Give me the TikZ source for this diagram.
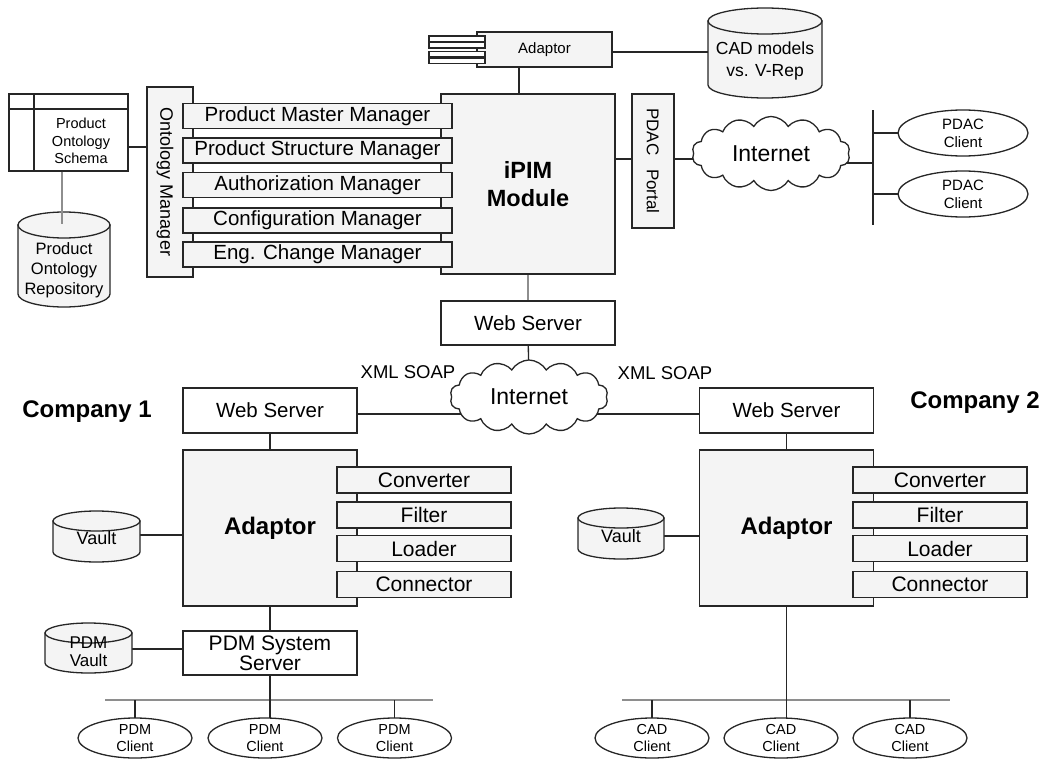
\documentclass[tikz,border=0pt]{standalone}
\usepackage{fontspec}
\setmainfont{Liberation Sans}
\usetikzlibrary{shapes.geometric,shapes.symbols,backgrounds}
\definecolor{boxfill}{HTML}{F4F4F4}
\definecolor{linec}{HTML}{262626}
\definecolor{busc}{HTML}{8E8E8E}
\newcommand{\fs}[2]{\fontsize{#1}{#2}\selectfont}
% #1 name, #2 x1, #3 y1, #4 x2, #5 y2, #6 ry, #7 text y, #8 font, #9 text
\newcommand{\mycyl}[9]{%
  \pgfmathsetmacro{\cylrx}{(#4-#2)/2}%
  \pgfmathsetmacro{\cylcx}{(#4+#2)/2}%
  \draw[cylstyle] (#2,#3+#6) -- (#2,#5-#6) arc[start angle=180,end angle=0,x radius=\cylrx,y radius=#6] -- (#4,#3+#6) -- cycle;
  \draw[cylstyle] (\cylcx,#3+#6) ellipse[x radius=\cylrx,y radius=#6];
  \node[inner sep=0pt, align=center, font=#8] (#1) at (\cylcx,#7) {#9};
}
\tikzset{
  base/.style={draw=linec, line width=1.3pt, inner sep=0pt, align=center, text=black},
  graybox/.style={base, fill=boxfill},
  whitebox/.style={base, fill=white},
  cylstyle/.style={draw=linec, line width=1.3pt, fill=boxfill},
  conn/.style={draw=linec, line width=1.3pt},
  grayconn/.style={draw=busc, line width=2pt},
  clientell/.style={base, ellipse, fill=white, minimum width=114pt, minimum height=40pt, font=\fs{14.5}{17}},
  pdacell/.style={base, ellipse, fill=white, minimum width=130pt, minimum height=46pt, font=\fs{15}{18}},
  cloudy/.style={base, cloud, cloud puffs=14, cloud puff arc=120, aspect=2.2, fill=white, minimum width=158pt, minimum height=74pt, font=\fs{23}{26}},
  mgr/.style={graybox, minimum width=269pt, minimum height=25pt, font=\fs{20.5}{22}},
  subbox/.style={graybox, minimum width=174pt, minimum height=26pt, font=\fs{21}{23}},
  wsbox/.style={whitebox, minimum width=174pt, minimum height=45pt, font=\fs{20.5}{22}},
  adbox/.style={graybox, minimum width=174pt, minimum height=156pt, font=\bfseries\fs{24}{26}},
  barbox/.style={draw=linec, line width=1.6pt, fill=white, minimum width=56pt, minimum height=12pt, inner sep=0pt,
    path picture={\draw[linec, line width=2.2pt] (path picture bounding box.west) -- (path picture bounding box.east);}},
  lbl/.style={inner sep=0pt, text=black, align=center},
}
\begin{document}
\begin{tikzpicture}[x=1pt,y=-1pt]
\useasboundingbox (0,0) rectangle (1044,760);

% ---------- top part ----------
\node[graybox, minimum width=135pt, minimum height=35pt, font=\fs{15}{17}] (adtop) at (544.5,49.5) {Adaptor};
\node[barbox] (bar1) at (457,42) {};
\node[barbox] (bar2) at (457,57.5) {};
\mycyl{cad}{708}{8}{822}{98}{13}{61}{\fs{17.5}{22}}{CAD models\\vs. V-Rep}

\node[whitebox, minimum width=119pt, minimum height=77pt] (schema) at (68.5,132.5) {};
\draw[conn] (schema.west |- 0,109) -- (schema.east |- 0,109);
\draw[conn] (schema.north -| 34,0) -- (schema.south -| 34,0);
\node[lbl, font=\fs{14.5}{17.5}] (schematext) at (81,141) {Product\\Ontology\\Schema};

\mycyl{repo}{18}{212}{110}{307}{13}{270}{\fs{16.5}{20}}{Product\\Ontology\\Repository}
\coordinate (repotop) at (62,224);
\draw[grayconn] (schema.south -| repotop) -- (repotop);

\node[graybox, minimum width=46pt, minimum height=190pt] (om) at (170,182) {};
\node[lbl, rotate=-90, font=\fs{18}{20}] (omtext) at (165,182) {Ontology Manager};

\node[graybox, minimum width=174pt, minimum height=180pt, font=\bfseries\fs{23.5}{28}] (ipim) at (528,184) {iPIM\\Module};

\node[mgr] (m1) at (317.5,116) {Product Master Manager};
\node[mgr] (m2) at (317.5,150.5) {Product Structure Manager};
\node[mgr] (m3) at (317.5,185) {Authorization Manager};
\node[mgr] (m4) at (317.5,220.5) {Configuration Manager};
\node[mgr] (m5) at (317.5,254.5) {Eng. Change Manager};

\node[graybox, rotate=-90, minimum width=134pt, minimum height=42pt, font=\fs{17}{19}] (portal) at (653,161) {PDAC\hspace{0.8em}Portal};

\node[cloudy] (cloud1) at (771,153.5) {Internet};
\coordinate (bus1a) at (873,110);
\coordinate (bus1b) at (873,225);
\node[pdacell] (pdac1) at (963,133) {PDAC\\Client};
\node[pdacell] (pdac2) at (963,194) {PDAC\\Client};

% ---------- middle ----------
\node[whitebox, minimum width=174pt, minimum height=44pt, font=\fs{20.5}{22}] (ws0) at (528,323) {Web Server};
\node[cloudy] (cloud2) at (529,397) {Internet};
\node[lbl, font=\fs{18.5}{20}] (xml1) at (408,372) {XML SOAP};
\node[lbl, font=\fs{18.5}{20}] (xml2) at (665,373) {XML SOAP};

% ---------- company 1 ----------
\node[lbl, font=\bfseries\fs{24}{26}] (comp1) at (87,412) {Company 1};
\node[wsbox] (ws1) at (270,410.5) {Web Server};
\node[adbox] (ad1) at (270,528) {Adaptor};
\node[subbox] (cv1) at (424,480) {Converter};
\node[subbox] (fi1) at (424,515) {Filter};
\node[subbox] (lo1) at (424,548.5) {Loader};
\node[subbox] (co1) at (424,584.5) {Connector};
\mycyl{vault1}{53}{511}{140}{562}{10}{538}{\fs{18}{20}}{Vault}
\node[whitebox, minimum width=174pt, minimum height=44pt, font=\fs{21}{20}] (pdmss) at (270,653) {PDM System\\Server};
\mycyl{pdmvault}{45}{623}{132}{673}{10}{652}{\fs{17}{18}}{PDM\\Vault}
\coordinate (bus2a) at (105,700);
\coordinate (bus2b) at (433,700);
\node[clientell] (pc1) at (135,738) {PDM\\Client};
\node[clientell] (pc2) at (265,738) {PDM\\Client};
\node[clientell] (pc3) at (394.5,738) {PDM\\Client};

% ---------- company 2 ----------
\node[lbl, font=\bfseries\fs{24}{26}] (comp2) at (975,403) {Company 2};
\node[wsbox] (ws2) at (786.5,410.5) {Web Server};
\node[adbox] (ad2) at (786.5,528) {Adaptor};
\node[subbox] (cv2) at (940,480) {Converter};
\node[subbox] (fi2) at (940,515) {Filter};
\node[subbox] (lo2) at (940,548.5) {Loader};
\node[subbox] (co2) at (940,584.5) {Connector};
\mycyl{vault2}{578}{508}{664}{559}{10}{536}{\fs{18}{20}}{Vault}
\coordinate (bus3a) at (622,700);
\coordinate (bus3b) at (950,700);
\node[clientell] (cc1) at (652,738) {CAD\\Client};
\node[clientell] (cc2) at (781,738) {CAD\\Client};
\node[clientell] (cc3) at (910,738) {CAD\\Client};

% ---------- connectors (behind the shapes) ----------
\begin{scope}[on background layer]
  \draw[conn] (adtop.south -| 519,0) -- (ipim.north -| 519,0);
  \draw[conn] (adtop.center |- 0,52) -- (cad.center |- 0,52);
  \draw[conn] (schema.center |- 0,147) -- (om.center |- 0,147);
  \draw[conn] (ipim.center |- 0,159) -- (cloud1.center |- 0,159);
  \draw[conn] (cloud1.center |- 0,163) -- (bus1a |- 0,163);
  \draw[conn] (bus1a) -- (bus1b);
  \draw[conn] (bus1a |- pdac1) -- (pdac1.center);
  \draw[conn] (bus1a |- pdac2) -- (pdac2.center);
  \draw[grayconn] (ipim.center) -- (ws0.center);
  \draw[conn] (ws0.center) -- (cloud2.center);
  \draw[conn] (ws1.center |- 0,414) -- (cloud2.center |- 0,414);
  \draw[conn] (cloud2.center |- 0,414) -- (ws2.center |- 0,414);
  % company 1
  \draw[conn] (ws1.center) -- (ad1.center);
  \draw[conn] (vault1.center |- 0,535) -- (ad1.center |- 0,535);
  \draw[conn] (ad1.center) -- (pdmss.center);
  \draw[conn] (pdmvault.center |- 0,649) -- (pdmss.center |- 0,649);
  \draw[grayconn] (bus2a) -- (bus2b);
  \draw[conn] (pdmss.center) -- (pdmss.center |- pc2.center);
  \draw[conn] (bus2a -| pc1) -- (pc1.center);
  \draw[conn] (bus2a -| pc3) -- (pc3.center);
  % company 2
  \draw[conn] (ws2.center) -- (ad2.center);
  \draw[conn] (vault2.center |- 0,536) -- (ad2.center |- 0,536);
  \draw[grayconn] (bus3a) -- (bus3b);
  \draw[conn] (ad2.center) -- (ad2.center |- cc2.center);
  \draw[conn] (bus3a -| cc1) -- (cc1.center);
  \draw[conn] (bus3a -| cc3) -- (cc3.center);
\end{scope}
\end{tikzpicture}
\end{document}
